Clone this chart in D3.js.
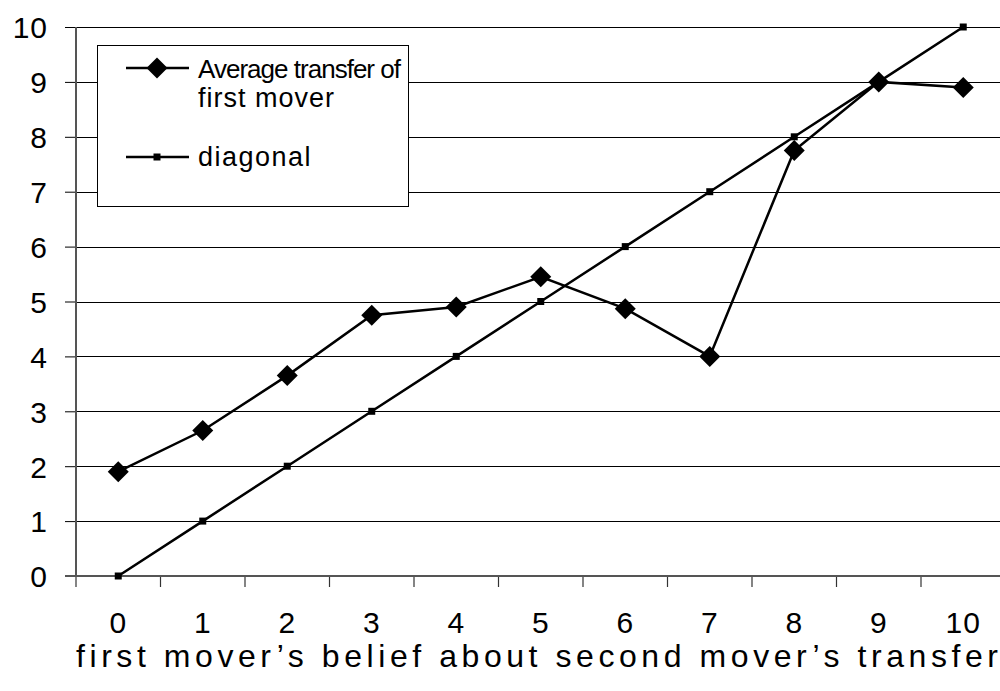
<!DOCTYPE html>
<html><head><meta charset="utf-8">
<script src="https://cdn.jsdelivr.net/npm/d3@7"></script>
<style>body{margin:0;background:#fff}svg{display:block}text{font-family:Arial,"Liberation Sans",sans-serif;fill:#000}</style>
</head><body>
<svg id="c" width="1000" height="691"></svg>
<script>
const categories = [0,1,2,3,4,5,6,7,8,9,10];
const avgTransfer = [1.9,2.65,3.65,4.75,4.9,5.45,4.87,4.0,7.75,9.0,8.9];
const diagonal = [0,1,2,3,4,5,6,7,8,9,10];
const yTicks = [0,1,2,3,4,5,6,7,8,9,10];
const seriesNames = ["Average transfer of first mover","diagonal"];
const xTitle = "first mover\u2019s belief about second mover\u2019s transfer";

const svg = d3.select("#c");
const x = d3.scaleBand().domain(categories).range([76,1005.5]);
const y = d3.scaleLinear().domain([0,10]).range([576,27]);
const cx = d => x(d)+x.bandwidth()/2;

// gridlines
svg.append("g").selectAll("line").data(yTicks.filter(d=>d>0)).join("line")
  .attr("x1",76).attr("x2",1005).attr("y1",d=>Math.round(y(d))+0.5).attr("y2",d=>Math.round(y(d))+0.5)
  .attr("stroke","#000").attr("stroke-width",1);

// y axis
const ya = svg.append("g").attr("transform","translate(76,0)")
  .call(d3.axisLeft(y).tickValues(yTicks).tickSize(11).tickPadding(17).tickFormat(d3.format("d")));
ya.select(".domain").remove();
ya.selectAll(".tick line").attr("stroke","#000");
ya.selectAll(".tick text").attr("font-size",30).attr("dy","0.36em").attr("letter-spacing",1);
svg.append("line").attr("x1",76).attr("x2",76).attr("y1",27).attr("y2",576).attr("stroke","#555").attr("stroke-width",2);

// x axis
const xa = svg.append("g").attr("transform","translate(0,576)")
  .call(d3.axisBottom(x).tickSize(0).tickPadding(36).tickFormat(d3.format("d")));
xa.select(".domain").remove();
xa.selectAll(".tick text").attr("font-size",30).attr("letter-spacing",1);
svg.append("g").selectAll("line").data(categories.map(d=>x(d)).concat([x.range()[1]])).join("line")
  .attr("x1",d=>d).attr("x2",d=>d).attr("y1",576).attr("y2",587).attr("stroke","#333").attr("stroke-width",1.2);
svg.append("line").attr("x1",65).attr("x2",1005).attr("y1",576).attr("y2",576).attr("stroke","#555").attr("stroke-width",2);

// axis title
svg.append("text").attr("x",537).attr("y",667).attr("text-anchor","middle").attr("font-size",32)
  .attr("textLength",922).attr("lengthAdjust","spacing").text(xTitle);

// series
const line = d3.line().x((d,i)=>cx(categories[i])).y(d=>y(d));
svg.append("path").datum(diagonal).attr("d",line).attr("fill","none").attr("stroke","#000").attr("stroke-width",2.5);
svg.append("path").datum(avgTransfer).attr("d",line).attr("fill","none").attr("stroke","#000").attr("stroke-width",2.5);
const sq = d3.symbol().type(d3.symbolSquare).size(49);
const dm = "M0,-10.5L10.5,0L0,10.5L-10.5,0Z";
svg.append("g").selectAll("path").data(diagonal).join("path")
  .attr("transform",(d,i)=>`translate(${cx(categories[i])},${y(d)})`).attr("d",sq).attr("fill","#000");
svg.append("g").selectAll("path").data(avgTransfer).join("path")
  .attr("transform",(d,i)=>`translate(${cx(categories[i])},${y(d)})`).attr("d",dm).attr("fill","#000");

// legend
const lg = svg.append("g");
lg.append("rect").attr("x",97.5).attr("y",45.5).attr("width",311).attr("height",161).attr("fill","#fff").attr("stroke","#000").attr("stroke-width",1);
const ly = [68,157];
lg.selectAll("line.s").data(ly).join("line").attr("x1",126).attr("x2",189).attr("y1",d=>d).attr("y2",d=>d).attr("stroke","#000").attr("stroke-width",2.5);
lg.append("path").attr("transform","translate(157,68)").attr("d",dm).attr("fill","#000");
lg.append("path").attr("transform","translate(157,157)").attr("d",sq).attr("fill","#000");
const words = seriesNames[0].split(" ");
lg.append("text").attr("x",198).attr("y",78).attr("font-size",26).attr("textLength",203).attr("lengthAdjust","spacing").text(words.slice(0,3).join(" "));
lg.append("text").attr("x",198).attr("y",107).attr("font-size",27).attr("letter-spacing",1).text(words.slice(3).join(" "));
lg.append("text").attr("x",198).attr("y",166).attr("font-size",27).attr("letter-spacing",1.5).text(seriesNames[1]);
</script>
</body></html>
